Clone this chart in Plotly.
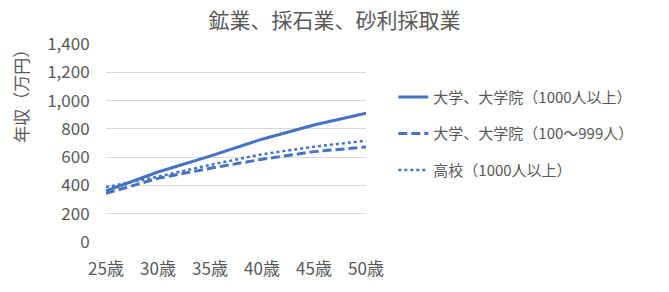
import plotly.graph_objects as go

ages = ["25歳", "30歳", "35歳", "40歳", "45歳", "50歳"]
univ_large = [362, 495, 607, 727, 827, 910]
univ_mid = [344, 450, 521, 585, 639, 672]
high_large = [388, 462, 545, 620, 674, 716]
names = ["大学、大学院（1000人以上）", "大学、大学院（100～999人）", "高校（1000人以上）"]
title = "鉱業、採石業、砂利採取業"
ytitle = "年収（万円）"

color = "#4472C4"
gray = "#595959"
font = "Noto Sans CJK JP"

fig = go.Figure()
for vals, name, dash, w, g in [
    (univ_large, names[0], "solid", 3, "a"),
    (univ_mid, names[1], "9px,4px", 3, "b"),
    (high_large, names[2], "dot", 2.5, "c"),
]:
    fig.add_trace(go.Scatter(x=ages, y=vals, name=name, mode="lines",
                             line=dict(color=color, width=w, dash=dash),
                             legendgroup=g))

fig.update_layout(
    width=669, height=292,
    margin=dict(l=106, r=303, t=44, b=50),
    paper_bgcolor="white", plot_bgcolor="white",
    font=dict(family=font, color=gray, size=14),
    title=dict(text=title, x=0.5, xanchor="center", y=0.93, yanchor="middle",
               font=dict(size=21, color=gray, family=font)),
    showlegend=True,
    legend=dict(x=1.105, xanchor="left", y=0.815, yanchor="top",
                font=dict(size=15, color=gray, family=font),
                tracegroupgap=14, itemwidth=30, bgcolor="rgba(0,0,0,0)"),
    xaxis=dict(type="category", range=[0, 5], showgrid=False, zeroline=False,
               showline=False, ticks="outside", ticklen=12, tickcolor="rgba(0,0,0,0)",
               tickfont=dict(size=17, color=gray, family=font)),
    yaxis=dict(range=[0, 1400], dtick=200, tickformat=",d", showgrid=True,
               gridcolor="#D9D9D9", gridwidth=1, zeroline=False, showline=False,
               ticks="outside", ticklen=12, tickcolor="rgba(0,0,0,0)",
               tickfont=dict(size=17, color=gray, family=font)),
)
fig.add_annotation(text=ytitle, xref="paper", yref="paper", x=-0.33, y=0.76,
                   showarrow=False, textangle=-90, xanchor="center", yanchor="middle",
                   font=dict(size=17, color=gray, family=font))

fig.write_html("out.html")
